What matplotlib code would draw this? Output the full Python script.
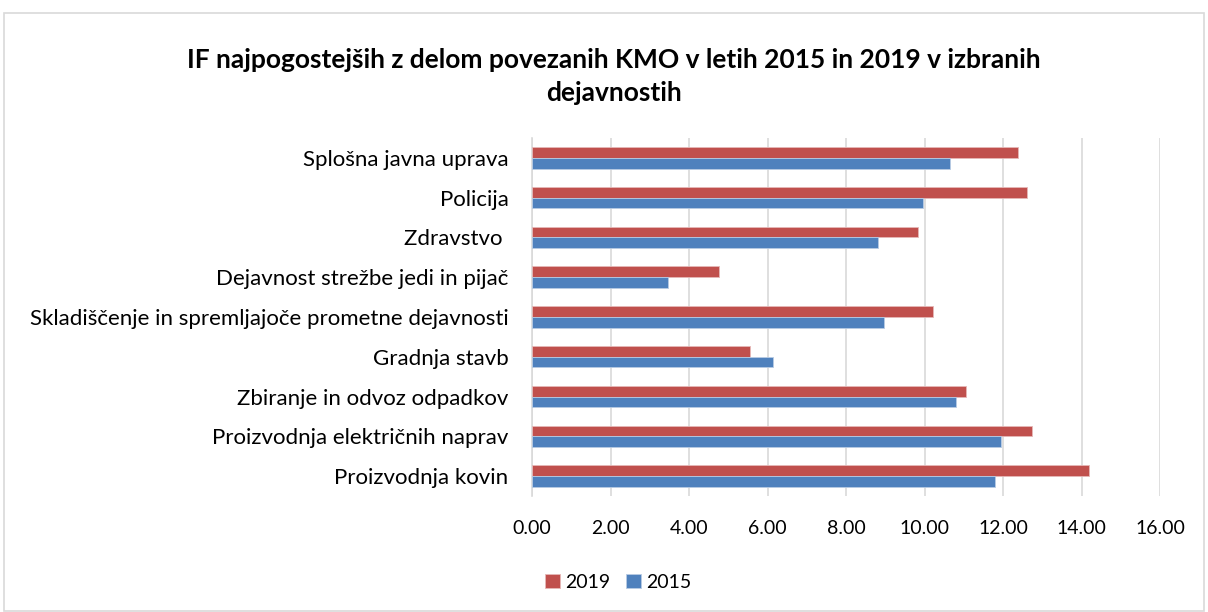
import matplotlib.pyplot as plt
import numpy as np
from matplotlib.patches import Rectangle

# data
categories = ["Proizvodnja kovin", "Proizvodnja električnih naprav", "Zbiranje in odvoz odpadkov",
              "Gradnja stavb", "Skladiščenje in spremljajoče prometne dejavnosti",
              "Dejavnost strežbe jedi in pijač", "Zdravstvo ", "Policija", "Splošna javna uprava"]
v2019 = [14.19, 12.75, 11.06, 5.56, 10.21, 4.77, 9.83, 12.61, 12.37]
v2015 = [11.79, 11.96, 10.80, 6.14, 8.97, 3.46, 8.82, 9.95, 10.64]
xticks = [0, 2, 4, 6, 8, 10, 12, 14, 16]

plt.rcParams['font.family'] = ['Lato', 'DejaVu Sans']

fig = plt.figure(figsize=(12.08, 6.12), dpi=100)
ax = fig.add_axes([0.4404, 0.1896, 0.5199, 0.5849])

# light frame round the whole chart
fig.patches.append(Rectangle((4/1208, 0.002), 1200/1208, 1 - 13/612 - 0.002, transform=fig.transFigure,
                             fill=False, edgecolor='#d9d9d9', linewidth=1.2))

y = np.arange(len(categories))
h = 0.27
ax.barh(y + h/2, v2019, height=h, color='#C0504D', edgecolor='#e6b8b7', linewidth=0.6, label='2019', zorder=3)
ax.barh(y - h/2, v2015, height=h, color='#4F81BD', edgecolor='#b8cce4', linewidth=0.6, label='2015', zorder=3)

ax.set_ylim(-0.5, len(categories) - 0.5)
ax.set_xlim(0, 16)
ax.set_xticks(xticks)
ax.set_xticklabels([f"{t:.2f}" for t in xticks], fontsize=14)
ax.set_yticks(y)
ax.set_yticklabels(categories, fontsize=16)
ax.tick_params(length=0)
ax.tick_params(axis='x', pad=17)
ax.tick_params(axis='y', pad=17)
ax.grid(axis='x', color='#d9d9d9', linewidth=1.2, zorder=0)
for s in ['top', 'right', 'bottom']:
    ax.spines[s].set_visible(False)
ax.spines['left'].set_color('#d9d9d9')
ax.spines['left'].set_linewidth(1.2)

fig.text(0.508, 0.875, "IF najpogostejših z delom povezanih KMO v letih 2015 in 2019 v izbranih\ndejavnostih",
         ha='center', va='center', fontsize=19, fontweight='bold', linespacing=1.45)

fig.legend(loc='center', bbox_to_anchor=(0.512, 0.049), ncol=2, frameon=False, fontsize=14,
           handlelength=0.75, handleheight=0.75, handletextpad=0.3, columnspacing=0.8)

fig.savefig('out.png', dpi=100)
